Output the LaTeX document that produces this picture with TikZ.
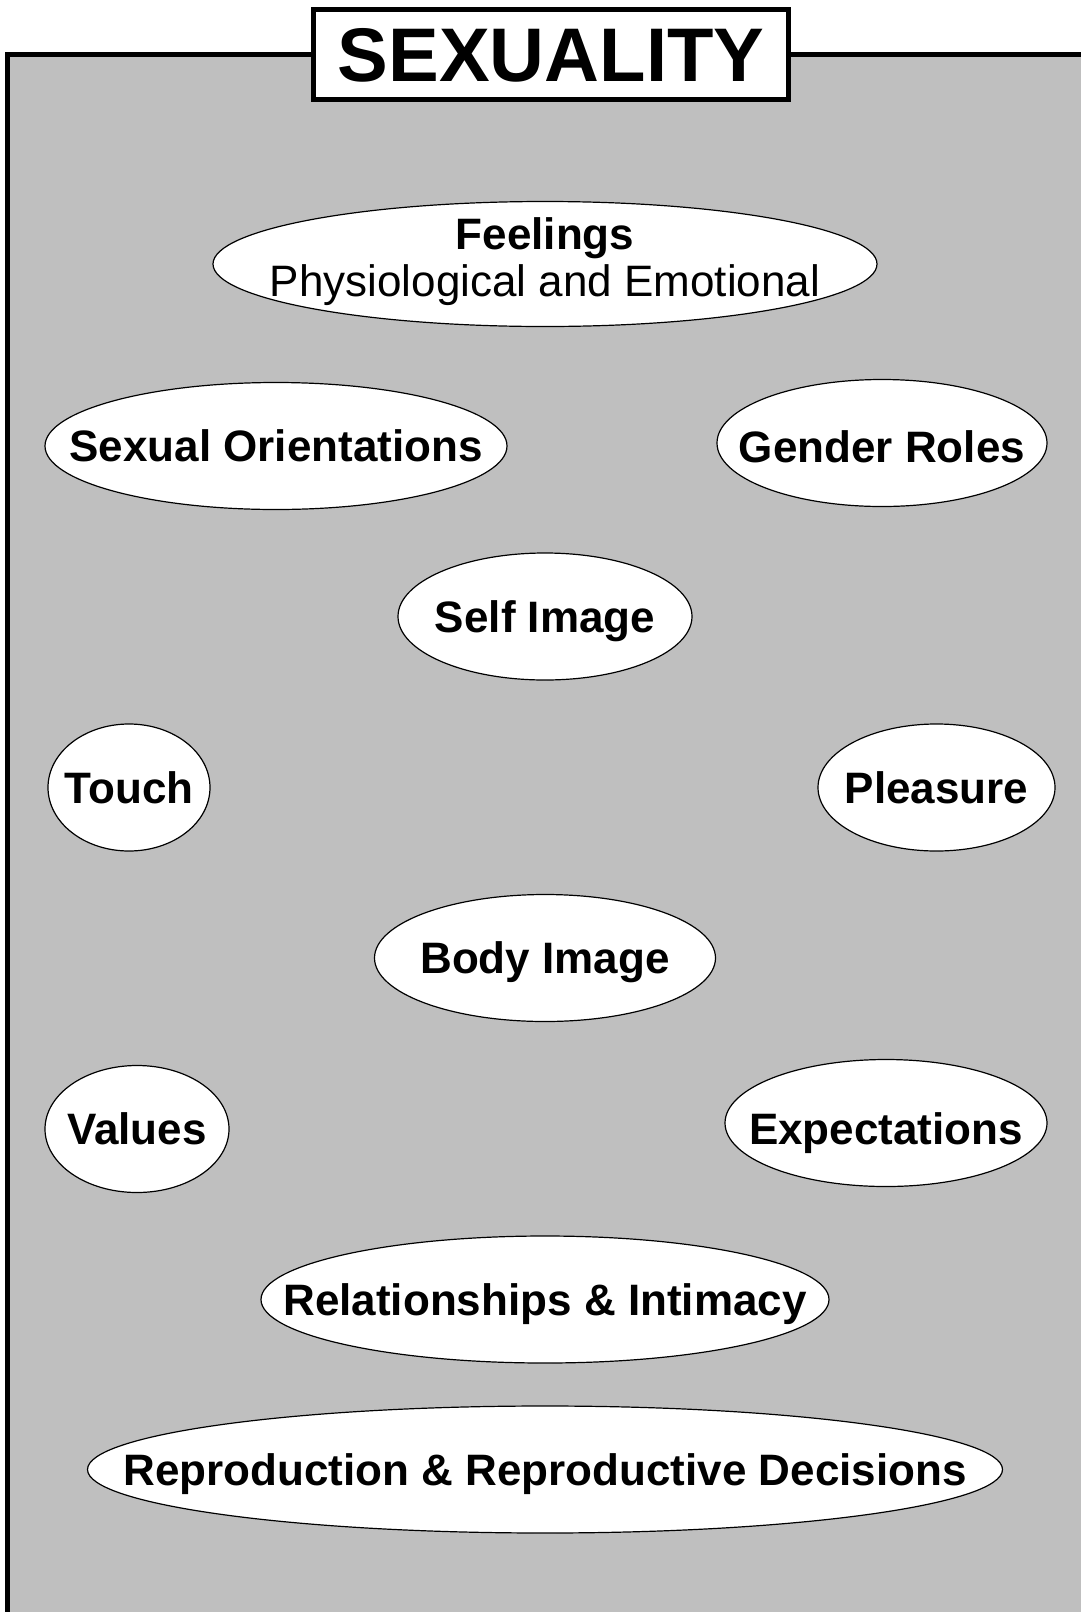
\documentclass[tikz,border=0pt]{standalone}
\usepackage{fontspec}
\setmainfont{Liberation Sans}
\usepackage{tikz}
\usetikzlibrary{positioning}
\usetikzlibrary{shapes.geometric}
\definecolor{panelgray}{RGB}{191,191,191}
\newcommand{\lbl}[1]{\makebox[0pt]{#1}}

\begin{document}
\begin{tikzpicture}[x=1pt,y=-1pt,
    oval/.style={ellipse,draw,fill=white,line width=1.2pt,inner sep=0pt,outer sep=0pt,minimum height=127pt,font=\fontsize{44}{47}\selectfont\bfseries},
    tag/.style={oval,text height=31.5pt,text depth=0pt},
    title box/.style={rectangle,draw,fill=white,line width=5pt,inner sep=0pt,minimum width=474.5pt,minimum height=90pt,text height=54.4pt,text depth=0pt,font=\fontsize{76}{80}\selectfont\bfseries}]

    \useasboundingbox (0,0) rectangle (1081,1612);
    \clip (0,0) rectangle (1081,1612);
    \fill[white] (0,0) rectangle (1081,1612);
    \fill[panelgray] (7.5,54) rectangle (1090,1620);
    \draw[line width=5pt] (7.5,1620) -- (7.5,54) -- (1090,54);

    \node[title box](title) at (551,54) {SEXUALITY};

    \node[oval][minimum width=664pt,minimum height=125pt,text height=65.8pt,text depth=0pt](feelings) at (545,264) {\lbl{\smash{\begin{tabular}[b]{@{}c@{}}Feelings\\ \mdseries Physiological and Emotional\end{tabular}}}};
    \node[tag][minimum width=462pt](sexor) at (276,446) {\lbl{Sexual Orientations}};
    \node[tag][minimum width=330pt,text height=38pt](gender) at (882,443) {\lbl{Gender Roles}};
    \node[tag][minimum width=294pt](selfimg)[below=226.5pt of feelings] {\lbl{Self Image}};
    \node[tag][minimum width=162pt](touch) at (129,787.5) {\lbl{Touch}};
    \node[tag][minimum width=237pt](pleasure)[right=608pt of touch] {\lbl{Pleasure}};
    \node[tag][minimum width=341pt](bodyimg)[below=214.5pt of selfimg] {\lbl{Body Image}};
    \node[tag][minimum width=184pt](values) at (137,1129) {\lbl{Values}};
    \node[tag][minimum width=322pt,text height=43pt](expect) at (886,1123) {\lbl{Expectations}};
    \node[tag][minimum width=568pt](intimacy)[below=214.5pt of bodyimg] {\lbl{Relationships \& Intimacy}};
    \node[tag][minimum width=915pt](reprod)[below=43pt of intimacy] {\lbl{Reproduction \& Reproductive Decisions}};

\end{tikzpicture}
\end{document}
